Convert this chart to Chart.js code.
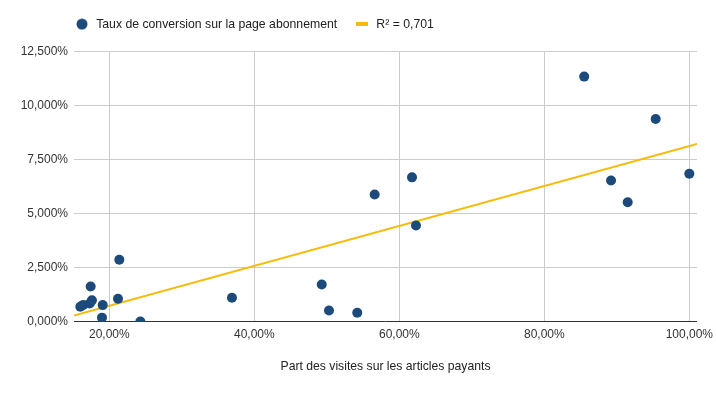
<!DOCTYPE html>
<html>
<head>
<meta charset="utf-8">
<script src="https://cdn.jsdelivr.net/npm/chart.js@4.4.1/dist/chart.umd.min.js"></script>
<style>
  html, body { margin: 0; padding: 0; background: #ffffff; }
  #wrap { width: 716px; height: 393px; position: relative; }
</style>
</head>
<body>
<div id="wrap"><canvas id="c" width="716" height="393"></canvas></div>
<script>
// ---- Data ----
const seriesLabel = 'Taux de conversion sur la page abonnement';
const trendLabel = 'R² = 0,701';
const xTitle = 'Part des visites sur les articles payants';

// Part des visites sur les articles payants (%)
const shareVisits = [16.0, 16.4, 17.43, 17.3, 17.6, 19.09, 18.99, 21.2, 21.38, 24.28, 36.92, 49.3, 50.3, 54.2, 56.6, 61.75, 62.3, 85.5, 89.2, 91.5, 95.36, 100.0];
// Taux de conversion sur la page abonnement (%)
const conversionRate = [0.70, 0.79, 1.64, 0.85, 1.00, 0.78, 0.20, 1.07, 2.88, 0.02, 1.12, 1.73, 0.53, 0.43, 5.90, 6.69, 4.46, 11.35, 6.54, 5.54, 9.39, 6.86];

// Trend line end points
const trendX = [15.13, 101.06];
const trendY = [0.30, 8.23];

// Axis ticks
const xTicks = [20, 40, 60, 80, 100];
const yTicks = [0, 2.5, 5, 7.5, 10, 12.5];

// ---- Styles ----
const blue = '#1b4a7b';
const yellow = '#f7bb0b';

function makeIcon(kind) {
  const cv = document.createElement('canvas');
  if (kind === 'circle') {
    cv.width = 12; cv.height = 12;
    const g = cv.getContext('2d');
    g.fillStyle = blue;
    g.beginPath(); g.arc(6, 6, 5.5, 0, Math.PI * 2); g.fill();
  } else {
    cv.width = 12; cv.height = 4;
    const g = cv.getContext('2d');
    g.fillStyle = yellow;
    g.fillRect(0, 0, 12, 4);
  }
  return cv;
}
const iconCircle = makeIcon('circle');
const iconLine = makeIcon('line');

const points = shareVisits.map((x, i) => ({ x: x, y: conversionRate[i] }));
const trend = trendX.map((x, i) => ({ x: x, y: trendY[i] }));

const fontFamily = '"Liberation Sans", Arial, sans-serif';

// shift the legend block to its place above the plot
const legendShift = {
  id: 'legendShift',
  afterLayout(chart) {
    const lg = chart.legend;
    if (!lg) return;
    const dx = 57 - lg.left;
    lg.left += dx; lg.right += dx;
    lg.top -= 11.5; lg.bottom -= 11.5;
  }
};

new Chart(document.getElementById('c'), {
  type: 'scatter',
  data: {
    datasets: [
      {
        label: seriesLabel,
        data: points,
        backgroundColor: blue,
        borderColor: blue,
        pointRadius: 5,
        pointHoverRadius: 5,
        pointBorderWidth: 0,
        clip: 0,
        order: 0
      },
      {
        label: trendLabel,
        data: trend,
        showLine: true,
        borderColor: yellow,
        backgroundColor: yellow,
        borderWidth: 2,
        pointRadius: 0,
        order: 1
      }
    ]
  },
  plugins: [legendShift],
  options: {
    responsive: false,
    animation: false,
    layout: { padding: { left: 8, right: 19, top: 12.5, bottom: 19 } },
    plugins: {
      tooltip: { enabled: false },
      legend: {
        position: 'top',
        align: 'start',
        labels: {
          usePointStyle: true,
          pointStyleWidth: 16,
          padding: 17,
          color: '#222222',
          font: { family: fontFamily, size: 12.25 },
          generateLabels: function (chart) {
            return chart.data.datasets.map((ds, i) => ({
              text: ds.label,
              datasetIndex: i,
              pointStyle: i === 0 ? iconCircle : iconLine,
              fillStyle: ds.backgroundColor,
              strokeStyle: ds.borderColor,
              lineWidth: 0,
              hidden: false,
              fontColor: '#222222'
            }));
          }
        }
      }
    },
    scales: {
      x: {
        type: 'linear',
        min: trendX[0],
        max: trendX[1],
        afterBuildTicks: function (scale) {
          scale.ticks = xTicks.map(v => ({ value: v }));
        },
        afterFit: function (scale) { scale.paddingLeft = 0; scale.paddingRight = 0; },
        border: { display: false },
        grid: { color: '#cccccc', drawTicks: false, lineWidth: 1 },
        ticks: {
          padding: 6,
          color: '#333333',
          font: { family: fontFamily, size: 12 },
          maxRotation: 0,
          callback: v => v.toFixed(2).replace('.', ',') + '%'
        },
        title: {
          display: true,
          text: xTitle,
          color: '#222222',
          font: { family: fontFamily, size: 12.2 },
          padding: { top: 11, bottom: 0 }
        }
      },
      y: {
        type: 'linear',
        min: 0,
        max: 12.5,
        afterBuildTicks: function (scale) {
          scale.ticks = yTicks.map(v => ({ value: v }));
        },
        afterFit: function (scale) { scale.width = 66; },
        border: { display: false },
        grid: {
          drawTicks: false,
          lineWidth: 1,
          color: ctx => (ctx.tick && ctx.tick.value === 0) ? '#333333' : '#cccccc'
        },
        ticks: {
          padding: 6,
          color: '#333333',
          font: { family: fontFamily, size: 12 },
          callback: v => v.toFixed(3).replace('.', ',') + '%'
        }
      }
    }
  }
});
</script>
</body>
</html>
